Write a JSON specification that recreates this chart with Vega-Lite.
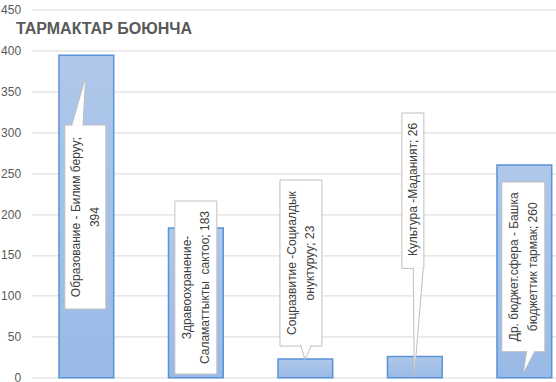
{
  "$schema": "https://vega.github.io/schema/vega-lite/v6.json",
  "autosize": {"type": "none"},
  "width": 524.4,
  "height": 368.3,
  "padding": {"left": 31.6, "top": 9.4, "right": 0, "bottom": 4.3},
  "background": "white",
  "title": {
    "text": "ТАРМАКТАР БОЮНЧА",
    "anchor": "start",
    "frame": "group",
    "font": "Liberation Sans",
    "fontSize": 16,
    "fontWeight": "bold",
    "color": "#595959",
    "baseline": "alphabetic",
    "offset": 0,
    "dx": -15.6,
    "dy": 47
  },
  "config": {"view": {"stroke": null}},
  "data": {
    "values": [
      {"sector": "Образование", "value": 394, "label": ["Образование - Билим беруу;", "394"]},
      {"sector": "Здравоохранение", "value": 183, "label": ["Здравоохранение-", "Саламаттыкты\u00a0 сактоо; 183"]},
      {"sector": "Соцразвитие", "value": 23, "label": ["Соцразвитие -Социалдык", "онуктуруу; 23"]},
      {"sector": "Культура", "value": 26, "label": ["Культура -Маданият; 26"]},
      {"sector": "Др. бюджет.сфера", "value": 260, "label": ["Др. бюджет.сфера - Башка", "бюджеттик тармак; 260"]}
    ]
  },
  "encoding": {
    "x": {
      "field": "sector",
      "type": "nominal",
      "sort": null,
      "axis": null,
      "scale": {"range": [0, 547.5], "paddingInner": 0.5, "paddingOuter": 0.25}
    }
  },
  "layer": [
    {
      "mark": {
        "type": "bar",
        "color": {"gradient": "linear", "x1": 0, "y1": 0, "x2": 0, "y2": 1,
          "stops": [{"offset": 0, "color": "#afc8ea"}, {"offset": 1, "color": "#99b9e6"}]},
        "stroke": "#5b93d8",
        "strokeWidth": 1.5
      },
      "encoding": {
        "y": {
          "field": "value",
          "type": "quantitative",
          "scale": {"domain": [0, 450], "nice": false},
          "axis": {
            "title": null,
            "values": [0, 50, 100, 150, 200, 250, 300, 350, 400, 450],
            "domain": false,
            "ticks": false,
            "grid": true,
            "gridColor": "#d9d9d9",
            "labelColor": "#595959",
            "labelFont": "Liberation Sans",
            "labelFontSize": 12,
            "labelPadding": 11
          }
        }
      }
    },
    {
      "transform": [{"filter": "datum.sector == 'Образование'"}],
      "layer": [
        {"mark": {"type": "bar", "width": 41, "fill": "white", "stroke": "#bfbfbf", "strokeWidth": 1, "xOffset": -1},
         "encoding": {"y": {"datum": 83.9}, "y2": {"datum": 308.7}}},
        {"mark": {"type": "point", "shape": "M-14,49 L0,0 L-2.7,49", "size": 4, "filled": true, "fill": "white", "stroke": "#bfbfbf", "strokeWidth": 1, "opacity": 1, "xOffset": -0.7},
         "encoding": {"y": {"datum": 367.7}}},
        {"mark": {"type": "text", "angle": 270, "align": "center", "baseline": "middle", "font": "Liberation Sans", "fontSize": 12, "lineHeight": 18.5, "dy": -9.25, "color": "#404040", "xOffset": -1},
         "encoding": {"y": {"datum": 196.3}, "text": {"field": "label"}}}
      ]
    },
    {
      "transform": [{"filter": "datum.sector == 'Здравоохранение'"}],
      "layer": [
        {"mark": {"type": "bar", "width": 42, "fill": "white", "stroke": "#bfbfbf", "strokeWidth": 1, "xOffset": 0},
         "encoding": {"y": {"datum": 4.5}, "y2": {"datum": 215.9}}},
        {"mark": {"type": "text", "angle": 270, "align": "center", "baseline": "middle", "font": "Liberation Sans", "fontSize": 12, "lineHeight": 18.5, "dy": -9.25, "color": "#404040", "xOffset": 0},
         "encoding": {"y": {"datum": 110.2}, "text": {"field": "label"}}}
      ]
    },
    {
      "transform": [{"filter": "datum.sector == 'Соцразвитие'"}],
      "layer": [
        {"mark": {"type": "bar", "width": 42, "fill": "white", "stroke": "#bfbfbf", "strokeWidth": 1, "xOffset": -4.4},
         "encoding": {"y": {"datum": 38.7}, "y2": {"datum": 241.5}}},
        {"mark": {"type": "point", "shape": "M-4.3,-14 L0,0 L6.7,-14", "size": 4, "filled": true, "fill": "white", "stroke": "#bfbfbf", "strokeWidth": 1, "opacity": 1, "xOffset": -0.4},
         "encoding": {"y": {"datum": 22.5}}},
        {"mark": {"type": "text", "angle": 270, "align": "center", "baseline": "middle", "font": "Liberation Sans", "fontSize": 12, "lineHeight": 18.5, "dy": -9.25, "color": "#404040", "xOffset": -4.4},
         "encoding": {"y": {"datum": 140.1}, "text": {"field": "label"}}}
      ]
    },
    {
      "transform": [{"filter": "datum.sector == 'Культура'"}],
      "layer": [
        {"mark": {"type": "bar", "width": 22, "fill": "white", "stroke": "#bfbfbf", "strokeWidth": 1, "xOffset": -2},
         "encoding": {"y": {"datum": 133.6}, "y2": {"datum": 323.4}}},
        {"mark": {"type": "point", "shape": "M-1,-109 L0,0 L9,-109", "size": 4, "filled": true, "fill": "white", "stroke": "#bfbfbf", "strokeWidth": 1, "opacity": 1, "xOffset": -0.6},
         "encoding": {"y": {"datum": 1.2}}},
        {"mark": {"type": "text", "angle": 270, "align": "center", "baseline": "middle", "font": "Liberation Sans", "fontSize": 12, "color": "#404040", "xOffset": -2},
         "encoding": {"y": {"datum": 230}, "text": {"field": "label"}}}
      ]
    },
    {
      "transform": [{"filter": "datum.sector == 'Др. бюджет.сфера'"}],
      "layer": [
        {"mark": {"type": "bar", "width": 43, "fill": "white", "stroke": "#bfbfbf", "strokeWidth": 1, "xOffset": -1},
         "encoding": {"y": {"datum": 31.8}, "y2": {"datum": 239.1}}},
        {"mark": {"type": "point", "shape": "M3.4,-22.3 L0,0 L11.7,-22.3", "size": 4, "filled": true, "fill": "white", "stroke": "#bfbfbf", "strokeWidth": 1, "opacity": 1, "xOffset": -1.1},
         "encoding": {"y": {"datum": 5.4}}},
        {"mark": {"type": "text", "angle": 270, "align": "center", "baseline": "middle", "font": "Liberation Sans", "fontSize": 12, "lineHeight": 18.5, "dy": -9.25, "color": "#404040", "xOffset": -1},
         "encoding": {"y": {"datum": 135.5}, "text": {"field": "label"}}}
      ]
    }
  ]
}
